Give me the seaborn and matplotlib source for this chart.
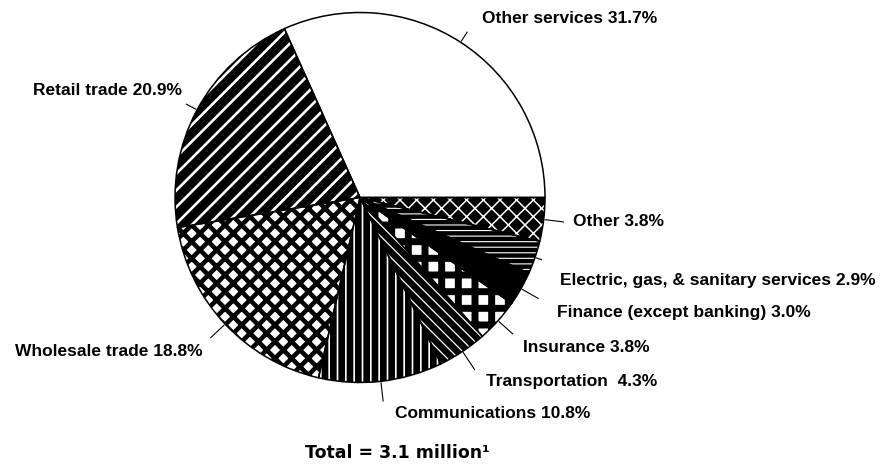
import matplotlib
matplotlib.use("Agg")
import matplotlib.pyplot as plt
import numpy as np
import seaborn as sns

# Employment shares by industry (percent), counter-clockwise from 3 o'clock
industries = ["Other services", "Retail trade", "Wholesale trade", "Communications",
              "Transportation ", "Insurance", "Finance (except banking)",
              "Electric, gas, & sanitary services", "Other"]
shares = [31.7, 20.9, 18.8, 10.8, 4.3, 3.8, 3.0, 2.9, 3.8]
total_label = "Total = 3.1 million\u00b9"

sns.set_theme(style="white")
plt.rcParams["font.family"] = ["Liberation Sans", "DejaVu Sans"]

W, H = 885, 467
fig = plt.figure(figsize=(W / 100, H / 100), dpi=100)
ax = fig.add_axes([0, 0, 1, 1])

# pie geometry in pixels: centre and radius
cx, cy, R = 360.0, 197.5, 185.0


def to_data(px, py):
    return (px - cx) / R, (cy - py) / R


# fill styles: face colour, hatch, hatch colour, hatch line width
styles = [
    ("white", None, "black", 1.0),
    ("black", "//", "white", 1.9),
    ("white", "xx", "black", 3.3),
    ("black", "||", "white", 1.2),
    ("black", "\\\\\\", "white", 0.9),
    ("white", "+", "black", 5.0),
    ("black", None, "black", 1.0),
    ("black", "---", "white", 0.8),
    ("black", "xx", "white", 1.1),
]

wedges, _ = ax.pie(shares, startangle=0, counterclock=True, radius=1,
                   center=(0, 0), wedgeprops=dict(linewidth=0))
for w, (face, hatch, hcol, hlw) in zip(wedges, styles):
    w.set_facecolor(face)
    w.set_edgecolor(hcol)
    w.set_linewidth(0)
    if hatch:
        w.set_hatch(hatch)
        if hasattr(w, "set_hatch_linewidth"):
            w.set_hatch_linewidth(hlw)
        else:
            w._hatch_linewidth = hlw

# black outlines over the patterned fills
ax.pie(shares, startangle=0, counterclock=True, radius=1, center=(0, 0),
       wedgeprops=dict(facecolor="none", edgecolor="black", linewidth=1.1))

# leader lines (outer radius per slice) and label anchors (pixels)
leader_out = [1.068, 1.068, 1.11, 1.11, 1.12, 1.11, 1.11, 1.04, 1.11]
label_pos = [(482, 18, "left"), (182, 90, "right"), (203, 352, "right"),
             (395, 414, "left"), (486, 382, "left"), (523, 348, "left"),
             (557, 313, "left"), (560, 280, "left"), (573, 221, "left")]

for w, r_out, name, val, (lx, ly, ha) in zip(wedges, leader_out, industries,
                                             shares, label_pos):
    mid = np.deg2rad((w.theta1 + w.theta2) / 2)
    r_in = 1.005
    ax.plot([r_in * np.cos(mid), r_out * np.cos(mid)],
            [r_in * np.sin(mid), r_out * np.sin(mid)],
            color="black", linewidth=0.8, solid_capstyle="butt")
    tx, ty = to_data(lx, ly)
    ax.text(tx, ty, f"{name} {val:.1f}%", ha=ha, va="center",
            fontsize=12.5, fontweight="bold", color="black")

tx, ty = to_data(305, 453)
ax.text(tx, ty, total_label, ha="left", va="center", fontsize=12.5,
        fontweight="bold", family=["DejaVu Sans"], color="black")

ax.set_xlim(-cx / R, (W - cx) / R)
ax.set_ylim((cy - H) / R, cy / R)
ax.set_aspect("equal")
ax.axis("off")

fig.savefig("out.png", dpi=100, facecolor="white")
